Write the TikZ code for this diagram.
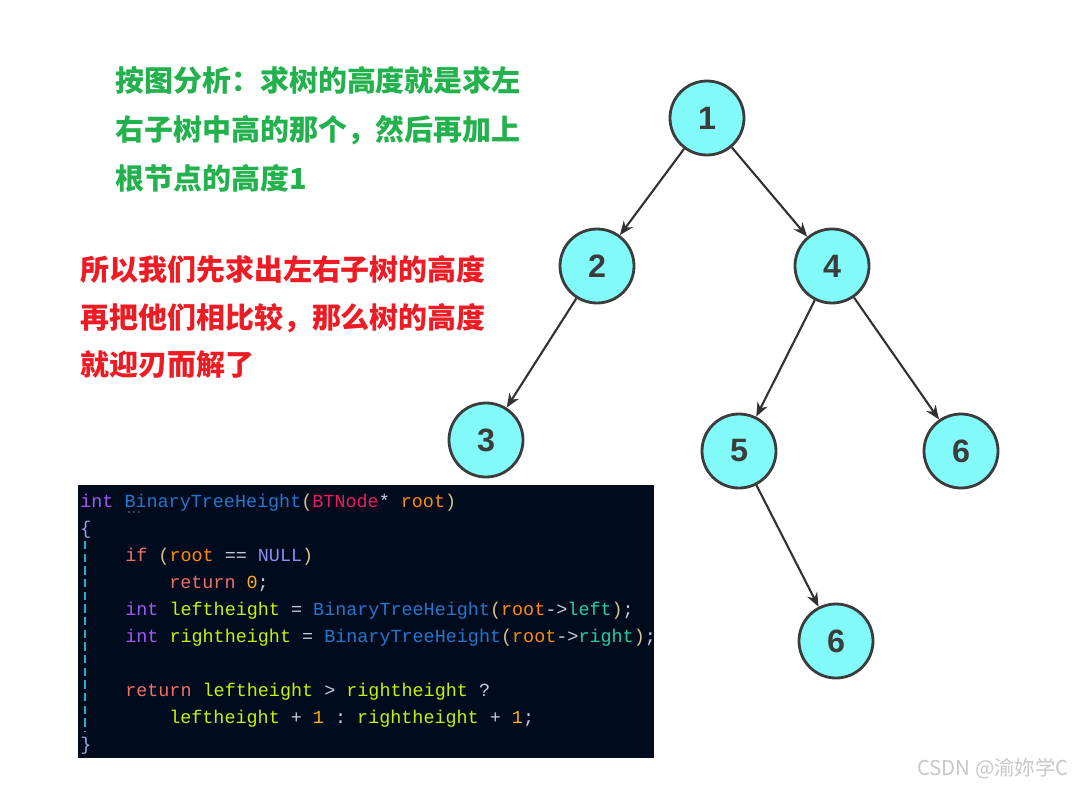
\documentclass[tikz,border=0pt]{standalone}
\usepackage{fontspec}
\setmainfont{Liberation Sans}
\setmonofont{Liberation Mono}
\newfontfamily\cjk{Noto Sans CJK SC}
\usepackage{xcolor}
\usetikzlibrary{arrows.meta}
\definecolor{notegreen}{RGB}{34,177,76}
\definecolor{notered}{RGB}{237,28,36}
\definecolor{nodecyan}{RGB}{130,250,250}
\definecolor{treegray}{RGB}{60,60,60}
\definecolor{edgegray}{RGB}{50,50,50}
\definecolor{codebg}{RGB}{0,12,30}
\definecolor{ckw}{RGB}{168,85,247}
\definecolor{cfn}{RGB}{36,118,204}
\definecolor{cpar}{RGB}{212,195,138}
\definecolor{ctype}{RGB}{240,24,90}
\definecolor{cop}{RGB}{200,205,220}
\definecolor{cvar}{RGB}{255,140,0}
\definecolor{cctl}{RGB}{240,112,104}
\definecolor{cnull}{RGB}{138,143,240}
\definecolor{cnum}{RGB}{255,176,0}
\definecolor{cid}{RGB}{200,240,0}
\definecolor{cmem}{RGB}{32,208,160}
\definecolor{cbrace}{RGB}{150,170,225}
\definecolor{cguide}{RGB}{32,176,192}

\begin{document}
\begin{tikzpicture}[x=0.025cm,y=-0.025cm,>=Stealth,
  treenode/.style={circle,draw=treegray,line width=2pt,fill=nodecyan,
    minimum size=1.85cm,inner sep=0pt,text=treegray,
    font=\bfseries\fontsize{23}{27}\selectfont},
  edge/.style={edgegray,line width=1.5pt,
    -{Stealth[length=10pt,width=8pt]}},
  codeline/.style={anchor=base west,inner sep=0pt,
    font=\ttfamily\fontsize{13.1}{15}\selectfont}]
  \useasboundingbox (0,0) rectangle (1072,785);

  % 说明文字
  \node[anchor=north west,inner sep=0pt,align=left,text=notegreen,
        font=\cjk\bfseries\fontsize{20.6}{34.8}\selectfont] (note1) at (115,66)
    {按图分析：求树的高度就是求左\\右子树中高的那个，然后再加上\\根节点的高度1};
  \node[anchor=north west,inner sep=0pt,align=left,text=notered,
        font=\cjk\bfseries\fontsize{20.6}{34}\selectfont] (note2) at (80,255)
    {所以我们先求出左右子树的高度\\再把他们相比较，那么树的高度\\就迎刃而解了};

  % 二叉树
  \node[treenode] (n1) at (707,118) {1};
  \node[treenode] (n2) at (597,266) {2};
  \node[treenode] (n4) at (832,266) {4};
  \node[treenode] (n3) at (486,440) {3};
  \node[treenode] (n5) at (739,451) {5};
  \node[treenode] (n6) at (961,451) {6};
  \node[treenode] (n7) at (836,641) {6};

  \draw[edge] (n1) -- (n2);
  \draw[edge] (n1) -- (n4);
  \draw[edge] (n2) -- (n3);
  \draw[edge] (n4) -- (n5);
  \draw[edge] (n4) -- (n6);
  \draw[edge] (n5) -- (n7);

  % 代码框
  \fill[codebg] (78,485) rectangle (654,758);
  \draw[cguide,line width=1.3pt,dash pattern=on 6pt off 3pt] (85,541) -- (85,731);
  \foreach \dx in {129,134,139} \fill[gray] (\dx,512) circle (0.7pt);

  \node[codeline] (c1) at (80,507) {\textcolor{ckw}{int} \textcolor{cfn}{BinaryTreeHeight}\textcolor{cpar}{(}\textcolor{ctype}{BTNode}\textcolor{cop}{*} \textcolor{cvar}{root}\textcolor{cpar}{)}};
  \node[codeline] (c2) at (80,534) {\textcolor{cbrace}{\{}};
  \node[codeline] (c3) at (125,561) {\textcolor{cctl}{if} \textcolor{cpar}{(}\textcolor{cvar}{root} \textcolor{cop}{==} \textcolor{cnull}{NULL}\textcolor{cpar}{)}};
  \node[codeline] (c4) at (169,588) {\textcolor{cctl}{return} \textcolor{cnum}{0}\textcolor{cop}{;}};
  \node[codeline] (c5) at (125,615) {\textcolor{ckw}{int} \textcolor{cid}{leftheight} \textcolor{cop}{=} \textcolor{cfn}{BinaryTreeHeight}\textcolor{cpar}{(}\textcolor{cvar}{root}\textcolor{cop}{->}\textcolor{cmem}{left}\textcolor{cpar}{)}\textcolor{cop}{;}};
  \node[codeline] (c6) at (125,642) {\textcolor{ckw}{int} \textcolor{cid}{rightheight} \textcolor{cop}{=} \textcolor{cfn}{BinaryTreeHeight}\textcolor{cpar}{(}\textcolor{cvar}{root}\textcolor{cop}{->}\textcolor{cmem}{right}\textcolor{cpar}{)}\textcolor{cop}{;}};
  \node[codeline] (c7) at (125,696) {\textcolor{cctl}{return} \textcolor{cid}{leftheight} \textcolor{cop}{>} \textcolor{cid}{rightheight} \textcolor{cop}{?}};
  \node[codeline] (c8) at (169,723) {\textcolor{cid}{leftheight} \textcolor{cop}{+} \textcolor{cnum}{1} \textcolor{cop}{:} \textcolor{cid}{rightheight} \textcolor{cop}{+} \textcolor{cnum}{1}\textcolor{cop}{;}};
  \node[codeline] (c9) at (80,750) {\textcolor{cbrace}{\}}};

  % 水印
  \node[anchor=base west,inner sep=0pt,text=black!22,
        font=\cjk\fontsize{14.5}{17}\selectfont] (mark) at (917,775) {CSDN @渝妳学C};
\end{tikzpicture}
\end{document}
